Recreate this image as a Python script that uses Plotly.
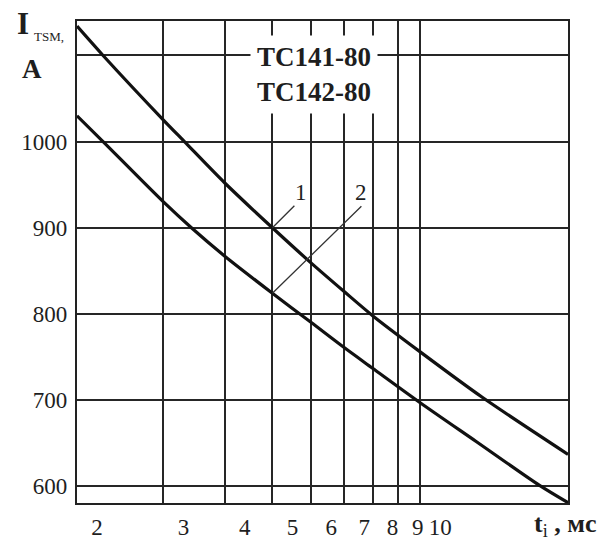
import math

import plotly.graph_objects as go

# curve 1 (upper) and curve 2 (lower): surge current vs pulse duration
t_curve1 = [2.0, 2.26, 3.0, 3.31, 4.0, 5.0, 6.0, 7.0, 8.0, 10.0, 13.4, 20.0]
i_curve1 = [1134, 1100, 1025, 1000, 952, 900, 859, 826, 798, 756, 703, 637]
t_curve2 = [2.0, 2.26, 3.0, 3.42, 4.0, 5.0, 6.0, 7.0, 8.0, 10.0, 13.0, 17.5, 20.0]
i_curve2 = [1030, 1000, 930, 900, 867, 824, 790, 761, 737, 697, 652, 601, 581]

x_ticks = [2, 3, 4, 5, 6, 7, 8, 9, 10]
x_labels = ["2", "3", "4", "5", "6", "7", "8", "9", "10"]
y_ticks = [600, 700, 800, 900, 1000]
y_labels = ["600", "700", "800", "900", "1000"]
y_extra_grid = [1100]
curve_labels = ["1", "2"]
device_names = ["TC141-80", "TC142-80"]

SERIF = "Liberation Serif, Times New Roman, serif"
INK = "#1e1e1e"
GRID = "#262626"

# plot area in pixels (used for placing the free text)
L, R, T, B = 77.0, 568.0, 21.0, 503.0


def px_x(x):
    return (x - L) / (R - L)


def px_y(y):
    return 1 - (y - T) / (B - T)


def paper_text(x, y, text, size, xanchor="center"):
    fig.add_annotation(
        xref="paper", yref="paper", x=px_x(x), y=px_y(y),
        xanchor=xanchor, yanchor="middle",
        text=text, showarrow=False,
        font=dict(family=SERIF, size=size, color=INK),
    )


fig = go.Figure()
for t, i in [(t_curve1, i_curve1), (t_curve2, i_curve2)]:
    fig.add_trace(
        go.Scatter(
            x=t,
            y=i,
            mode="lines",
            line=dict(color="#111111", width=3.2, shape="spline", smoothing=0.8),
            showlegend=False,
            hoverinfo="skip",
        )
    )

axis_common = dict(
    showgrid=True,
    gridcolor=GRID,
    gridwidth=1.7,
    showline=True,
    linecolor="#222222",
    linewidth=2.2,
    mirror=True,
    ticks="",
    zeroline=False,
    automargin=False,
    tickfont=dict(family=SERIF, size=23, color=INK),
)

fig.update_xaxes(
    type="log",
    range=[math.log10(2), math.log10(20)],
    tickvals=x_ticks,
    ticktext=x_labels,
    ticklabelshift=20,
    ticklabelstandoff=2,
    **axis_common,
)
fig.update_yaxes(
    range=[580.6, 1140],
    tickvals=y_ticks,
    ticktext=y_labels,
    ticklabelstandoff=3,
    minor=dict(tickvals=y_extra_grid, showgrid=True, gridcolor=GRID, gridwidth=1.7, ticks=""),
    **axis_common,
)

# device names, white box interrupting the grid
fig.add_annotation(
    xref="paper", yref="paper",
    x=px_x(314), y=px_y(74),
    xanchor="center", yanchor="middle",
    text="<br>".join(device_names),
    showarrow=False,
    font=dict(family=SERIF, size=27, color=INK, weight="bold"),
    bgcolor="white",
    borderpad=6,
)

# curve labels with leader lines, pointing at t = 5
k1 = t_curve1.index(5.0)
k2 = t_curve2.index(5.0)
fig.add_annotation(
    x=math.log10(t_curve1[k1]), y=i_curve1[k1],
    text=curve_labels[0],
    ax=22, ay=-22, xanchor="left", yanchor="bottom",
    showarrow=True, arrowhead=0, arrowwidth=1.3, arrowcolor="#333333",
    font=dict(family=SERIF, size=23, color=INK),
    borderpad=0,
)
fig.add_annotation(
    x=math.log10(t_curve2[k2]), y=i_curve2[k2],
    text=curve_labels[1],
    ax=89, ay=-87, xanchor="center", yanchor="bottom",
    showarrow=True, arrowhead=0, arrowwidth=1.3, arrowcolor="#333333",
    font=dict(family=SERIF, size=23, color=INK),
    borderpad=0,
)

# axis titles
paper_text(23, 24, "<b>I</b>", 31)
paper_text(49, 36, "TSM,", 13)
paper_text(32, 69, "<b>A</b>", 27)
paper_text(598, 525, "<b>t</b><sub>i</sub><b> , мс</b>", 26, xanchor="right")

fig.update_layout(
    width=613,
    height=543,
    margin=dict(l=77, r=45, t=21, b=40),
    plot_bgcolor="white",
    paper_bgcolor="white",
    showlegend=False,
)

fig.write_html(
    "out.html",
    config={"displayModeBar": False},
    post_script="document.body.style.margin='0';",
)
